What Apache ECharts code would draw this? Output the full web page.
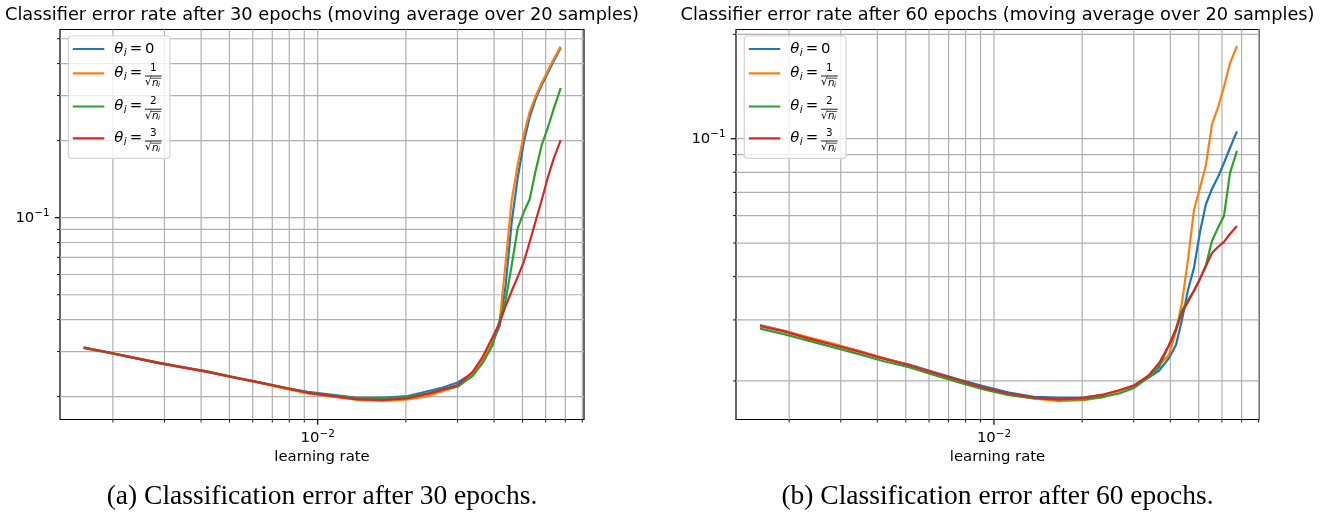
<!DOCTYPE html>
<html>
<head>
<meta charset="utf-8">
<script src="https://cdn.jsdelivr.net/npm/echarts@6/dist/echarts.min.js"></script>
<style>
  html, body { margin: 0; padding: 0; background: #fff; }
  #chart { width: 1327px; height: 514px; }
</style>
</head>
<body>
<div id="chart"></div>
<script>
// Learning rates swept (shared by both runs)
const learningRate = [0.00159, 0.00192, 0.00234, 0.00284, 0.00346, 0.00421, 0.00513, 0.00624, 0.00760, 0.00924,
  0.01125, 0.01369, 0.01666, 0.02029, 0.02374, 0.02671, 0.03005, 0.03381, 0.03657, 0.03956,
  0.04180, 0.04381, 0.04594, 0.04815, 0.05048, 0.05291, 0.05546, 0.05814, 0.06095, 0.06390, 0.06751];

// Error rate after 30 epochs, one list per theta_i scale
const err30Theta0 = [0.0311, 0.0298, 0.0284, 0.0271, 0.0260, 0.0250, 0.0238, 0.0228, 0.0217, 0.0209,
  0.0203, 0.0198, 0.0198, 0.0201, 0.0210, 0.0217, 0.0227, 0.0247, 0.0278, 0.0327,
  0.0378, 0.0546, 0.0962, 0.143, 0.196, 0.247, 0.291, 0.330, 0.367, 0.409, 0.460];
const err30Theta1 = [0.0311, 0.0298, 0.0285, 0.0272, 0.0260, 0.0250, 0.0238, 0.0227, 0.0216, 0.0206,
  0.0200, 0.0194, 0.0192, 0.0195, 0.0201, 0.0210, 0.0219, 0.0245, 0.0278, 0.0333,
  0.0392, 0.0671, 0.117, 0.161, 0.210, 0.259, 0.299, 0.336, 0.374, 0.417, 0.466];
const err30Theta2 = [0.0309, 0.0297, 0.0284, 0.0272, 0.0261, 0.0251, 0.0239, 0.0228, 0.0218, 0.0208,
  0.0202, 0.0197, 0.0197, 0.0199, 0.0206, 0.0213, 0.0219, 0.0241, 0.0271, 0.0318,
  0.0399, 0.0477, 0.0653, 0.0908, 0.105, 0.118, 0.153, 0.192, 0.224, 0.266, 0.321];
const err30Theta3 = [0.0311, 0.0298, 0.0284, 0.0271, 0.0260, 0.0250, 0.0238, 0.0228, 0.0217, 0.0207,
  0.0201, 0.0195, 0.0194, 0.0197, 0.0205, 0.0213, 0.0222, 0.0250, 0.0286, 0.0342,
  0.0388, 0.0452, 0.0517, 0.0587, 0.0671, 0.0804, 0.0971, 0.117, 0.143, 0.170, 0.201];

// Error rate after 60 epochs
const err60Theta0 = [0.0290, 0.0279, 0.0266, 0.0255, 0.0244, 0.0232, 0.0223, 0.0212, 0.0202, 0.0193,
  0.0185, 0.0180, 0.0179, 0.0179, 0.0182, 0.0187, 0.0194, 0.0205, 0.0214, 0.0233,
  0.0254, 0.0300, 0.0366, 0.0424, 0.0538, 0.0648, 0.0716, 0.0775, 0.0851, 0.0940, 0.105];
const err60Theta1 = [0.0289, 0.0279, 0.0267, 0.0256, 0.0244, 0.0233, 0.0222, 0.0211, 0.0200, 0.0190,
  0.0183, 0.0178, 0.0175, 0.0176, 0.0180, 0.0187, 0.0194, 0.0207, 0.0222, 0.0238,
  0.0279, 0.0336, 0.0447, 0.0623, 0.0721, 0.0840, 0.110, 0.123, 0.141, 0.165, 0.185];
const err60Theta2 = [0.0283, 0.0273, 0.0261, 0.0250, 0.0239, 0.0228, 0.0219, 0.0208, 0.0198, 0.0189,
  0.0182, 0.0178, 0.0177, 0.0177, 0.0180, 0.0184, 0.0191, 0.0205, 0.0219, 0.0254,
  0.0283, 0.0320, 0.0342, 0.0364, 0.0394, 0.0432, 0.0507, 0.0553, 0.0598, 0.0796, 0.0922];
const err60Theta3 = [0.0288, 0.0278, 0.0265, 0.0254, 0.0243, 0.0232, 0.0222, 0.0211, 0.0201, 0.0191,
  0.0184, 0.0179, 0.0177, 0.0179, 0.0183, 0.0188, 0.0194, 0.0208, 0.0225, 0.0253,
  0.0281, 0.0314, 0.0338, 0.0364, 0.0394, 0.0429, 0.0468, 0.0487, 0.0504, 0.0531, 0.0560];

// Numerators of theta_i = k / sqrt(n_i)
const thetaNumerators = [0, 1, 2, 3];

// Tick positions (log axes)
const xMajorTicks = [0.01];
const xMinorTicks = [0.002, 0.003, 0.004, 0.005, 0.006, 0.007, 0.008, 0.009,
  0.02, 0.03, 0.04, 0.05, 0.06, 0.07, 0.08];
const yMajorTicks = [0.1];
const yMinorTicks30 = [0.02, 0.03, 0.04, 0.05, 0.06, 0.07, 0.08, 0.09, 0.2, 0.3, 0.4, 0.5];
const yMinorTicks60 = [0.02, 0.03, 0.04, 0.05, 0.06, 0.07, 0.08, 0.09, 0.2];

const panelTitles = [
  'Classifier error rate after 30 epochs (moving average over 20 samples)',
  'Classifier error rate after 60 epochs (moving average over 20 samples)'
];
const captions = ['(a) Classification error after 30 epochs.', '(b) Classification error after 60 epochs.'];
const xAxisTitle = 'learning rate';

const FONT = 'DejaVu Sans';
const COLORS = ['#1f77b4', '#ff7f0e', '#2ca02c', '#d62728'];
const TICK_FS = 14.85;
const SUP_FS = 10.4;

const panels = [
  { grid: { left: 60, top: 29.5, width: 524, height: 390 }, xRange: [0.00132, 0.08108], yRange: [0.01628, 0.5434],
    series: [err30Theta0, err30Theta1, err30Theta2, err30Theta3], yMinor: yMinorTicks30 },
  { grid: { left: 736, top: 29.5, width: 523, height: 390 }, xRange: [0.001317, 0.08027], yRange: [0.01548, 0.2066],
    series: [err60Theta0, err60Theta1, err60Theta2, err60Theta3], yMinor: yMinorTicks60 }
];

function txt(s, x, y, size, opts) {
  opts = opts || {};
  return {
    type: 'text', x: x, y: y, z: opts.z || 0, zlevel: 0,
    style: {
      text: s, fill: '#000', fontSize: size, fontFamily: opts.family || FONT,
      fontStyle: opts.italic ? 'italic' : 'normal', fontWeight: 'normal',
      align: opts.align || 'left', verticalAlign: opts.valign || 'middle'
    }
  };
}

// Decade label such as 10^-2, drawn as base + superscript
function decadeLabel(v, anchorX, cy, mode) {
  const exp = Math.round(Math.log10(v));
  const sup = (exp < 0 ? '\u2212' : '') + Math.abs(exp);
  const supW = 15.3, baseW = 18.9;
  let baseRight;
  if (mode === 'center') baseRight = anchorX - (baseW + supW) / 2 + baseW;
  else baseRight = anchorX - supW; // right aligned at anchorX
  return [
    { type: 'text', x: baseRight, y: cy, style: { text: '10', fill: '#000', fontSize: TICK_FS, fontFamily: FONT, align: 'right', verticalAlign: 'middle' } },
    { type: 'text', x: baseRight, y: cy - 4.7, style: { text: sup, fill: '#000', fontSize: SUP_FS, fontFamily: FONT, align: 'left', verticalAlign: 'middle' } }
  ];
}

function xTickSeries(idx, yLo, ticks, major) {
  return {
    type: 'custom', xAxisIndex: idx, yAxisIndex: idx, clip: false, silent: true, z: 1,
    animation: false,
    data: ticks.map(v => [v, yLo]),
    renderItem: function (params, api) {
      const v = api.value(0);
      const cs = params.coordSys;
      const x = api.coord([v, yLo])[0];
      const bottom = cs.y + cs.height;
      const children = [
        { type: 'line', shape: { x1: x, y1: cs.y, x2: x, y2: bottom }, style: { stroke: '#b0b0b0', lineWidth: 1.2 } },
        { type: 'line', shape: { x1: x, y1: bottom, x2: x, y2: bottom + (major ? 5.2 : 3) }, style: { stroke: '#000', lineWidth: major ? 1.2 : 0.9 } }
      ];
      if (major) decadeLabel(v, x, bottom + 19, 'center').forEach(c => children.push(c));
      return { type: 'group', children: children };
    }
  };
}

function yTickSeries(idx, xLo, ticks, major) {
  return {
    type: 'custom', xAxisIndex: idx, yAxisIndex: idx, clip: false, silent: true, z: 1,
    animation: false,
    data: ticks.map(v => [xLo, v]),
    renderItem: function (params, api) {
      const v = api.value(1);
      const cs = params.coordSys;
      const y = api.coord([xLo, v])[1];
      const left = cs.x;
      const children = [
        { type: 'line', shape: { x1: left, y1: y, x2: left + cs.width, y2: y }, style: { stroke: '#b0b0b0', lineWidth: 1.2 } },
        { type: 'line', shape: { x1: left - (major ? 5.2 : 3), y1: y, x2: left, y2: y }, style: { stroke: '#000', lineWidth: major ? 1.2 : 0.9 } }
      ];
      if (major) decadeLabel(v, left - 10.4, y + 0.6, 'right').forEach(c => children.push(c));
      return { type: 'group', children: children };
    }
  };
}

function legendGraphics(fx, fy) {
  const els = [];
  els.push({ type: 'rect', z: 100, shape: { x: fx, y: fy, width: 101.7, height: 122.3, r: 3 },
    style: { fill: 'rgba(255,255,255,0.8)', stroke: '#d4d4d4', lineWidth: 1.2 } });
  const rowY = [13, 37.3, 70.5, 102.3];
  thetaNumerators.forEach((k, r) => {
    const cy = fy + rowY[r];
    els.push({ type: 'line', z: 101, shape: { x1: fx + 4.5, y1: cy, x2: fx + 36, y2: cy }, style: { stroke: COLORS[r], lineWidth: 2.2 } });
    els.push(txt('\u03B8', fx + 46, cy, TICK_FS, { italic: true, z: 101 }));
    els.push(txt('i', fx + 55.5, cy + 4, SUP_FS, { italic: true, z: 101 }));
    els.push(txt('=', fx + 61.5, cy, TICK_FS, { z: 101 }));
    if (k === 0) {
      els.push(txt(String(k), fx + 76.7, cy, TICK_FS, { z: 101 }));
    } else {
      els.push(txt(String(k), fx + 85, cy - 5.4, SUP_FS, { align: 'center', z: 101 }));
      els.push({ type: 'line', z: 101, shape: { x1: fx + 76.7, y1: cy + 2.7, x2: fx + 93.4, y2: cy + 2.7 }, style: { stroke: '#000', lineWidth: 0.9 } });
      els.push(txt('\u221A', fx + 76.7, cy + 9.4, SUP_FS, { z: 101 }));
      els.push({ type: 'line', z: 101, shape: { x1: fx + 82.6, y1: cy + 4.9, x2: fx + 92.8, y2: cy + 4.9 }, style: { stroke: '#000', lineWidth: 0.7 } });
      els.push(txt('n', fx + 83.6, cy + 9.6, SUP_FS, { italic: true, z: 101 }));
      els.push(txt('i', fx + 89.8, cy + 12, 7.3, { italic: true, z: 101 }));
    }
  });
  return els;
}

const grids = [], xAxes = [], yAxes = [], series = [], graphics = [];
panels.forEach((p, i) => {
  grids.push(Object.assign({ show: true, borderColor: '#000', borderWidth: 1.2, backgroundColor: 'transparent' }, p.grid));
  xAxes.push({
    type: 'log', logBase: 10, gridIndex: i, min: p.xRange[0], max: p.xRange[1],
    axisLine: { show: false }, axisTick: { show: false }, axisLabel: { show: false }, splitLine: { show: false },
    name: xAxisTitle, nameLocation: 'middle', nameGap: 30,
    nameTextStyle: { fontFamily: FONT, fontSize: TICK_FS, color: '#000' }
  });
  yAxes.push({
    type: 'log', logBase: 10, gridIndex: i, min: p.yRange[0], max: p.yRange[1],
    axisLine: { show: false }, axisTick: { show: false }, axisLabel: { show: false }, splitLine: { show: false }
  });
  series.push(xTickSeries(i, p.yRange[0], xMinorTicks, false));
  series.push(xTickSeries(i, p.yRange[0], xMajorTicks, true));
  series.push(yTickSeries(i, p.xRange[0], p.yMinor, false));
  series.push(yTickSeries(i, p.xRange[0], yMajorTicks, true));
  p.series.forEach((vals, s) => {
    series.push({
      type: 'line', name: '\u03B8i = ' + (thetaNumerators[s] === 0 ? '0' : thetaNumerators[s] + '/\u221Ani'),
      xAxisIndex: i, yAxisIndex: i, z: 3 + s, animation: false,
      showSymbol: false, symbol: 'none', silent: true,
      lineStyle: { color: COLORS[s], width: 2.2, cap: 'butt', join: 'round' },
      itemStyle: { color: COLORS[s] },
      data: learningRate.map((x, j) => [x, vals[j]])
    });
  });
  const cx = p.grid.left + p.grid.width / 2;
  graphics.push(txt(panelTitles[i], cx, 15, 17.8, { align: 'center' }));
  graphics.push(txt(captions[i], cx, 497, 27.5, { align: 'center', family: 'Liberation Serif' }));
  legendGraphics(p.grid.left + 8.3, 36).forEach(e => graphics.push(e));
});

const chart = echarts.init(document.getElementById('chart'), null, { width: 1327, height: 514 });
chart.setOption({
  animation: false,
  backgroundColor: '#fff',
  grid: grids,
  xAxis: xAxes,
  yAxis: yAxes,
  series: series,
  graphic: { elements: graphics }
});
</script>
</body>
</html>
